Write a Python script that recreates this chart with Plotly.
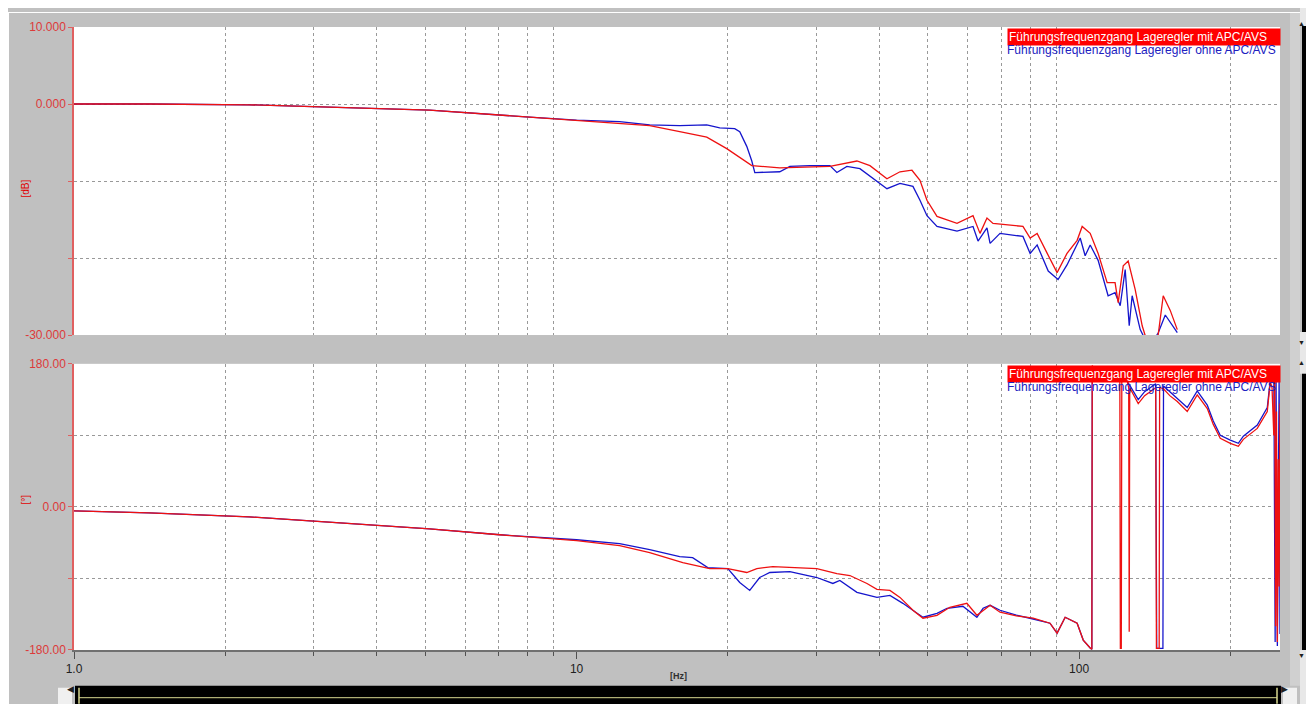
import plotly.graph_objects as go
from plotly.subplots import make_subplots

# Bode plot: Führungsfrequenzgang Lageregler mit / ohne APC/AVS
# values (Hz, dB, deg)

red_mag_f = [1.0, 1.41, 2.23, 3.22, 5.10, 8.06, 10.0, 12.18, 13.98, 16.04,
             18.16, 19.9, 22.32, 25.37, 31.92, 36.13, 38.35, 41.46, 44.01, 46.49,
             48.23, 49.8, 52.14, 57.15, 61.5, 63.5, 65.56, 67.4, 77.3, 79.9,
             82.5, 86.4, 90.4, 94.6, 99.1, 101.4, 105.2, 109.1, 113.7, 117.9,
             119.6, 122.4, 125.2, 129.3, 133.5, 135.4, 138.5, 143.0, 147.0, 151.8,
             156.8]
red_mag = [0, 0, -0.1, -0.4, -0.8, -1.7, -2.1, -2.45, -2.8, -3.6,
           -4.3, -5.8, -8.0, -8.3, -8.1, -7.4, -8.0, -9.7, -8.8, -8.6,
           -9.9, -12.5, -14.6, -15.5, -14.5, -16.8, -14.8, -15.5, -15.9, -17.4,
           -16.8, -19.4, -21.9, -19.4, -17.7, -15.9, -16.8, -19.4, -23.2, -23.2,
           -25.8, -21.0, -20.4, -24.1, -28.8, -30.1, -31.5, -31.0, -24.9, -26.8,
           -29.3]

blue_mag_f = [1.0, 1.41, 2.23, 3.22, 5.10, 8.06, 10.0, 12.18, 13.98, 16.04,
              18.16, 19.27, 20.64, 21.12, 21.81, 22.32, 22.63, 25.37, 26.57, 29.12,
              31.92, 32.96, 34.51, 36.63, 38.88, 41.46, 44.01, 46.7, 48.23, 49.8,
              52.14, 57.15, 61.5, 62.93, 65.56, 66.5, 69.6, 77.3, 79.9, 82.5,
              86.8, 90.8, 94.6, 100.5, 102.8, 105.2, 109.1, 114.2, 117.9, 120.7,
              123.5, 125.8, 127.5, 132.3, 134.2, 138.5, 143.7, 148.4, 156.8]
blue_mag = [0, 0, -0.1, -0.4, -0.8, -1.7, -2.1, -2.3, -2.7, -2.8,
            -2.7, -3.1, -3.2, -3.6, -5.5, -7.4, -8.9, -8.8, -8.1, -8.0,
            -8.0, -8.9, -8.1, -8.4, -9.7, -11.0, -10.3, -10.7, -12.5, -14.5,
            -15.9, -16.5, -15.9, -17.8, -16.1, -18.1, -16.8, -17.2, -19.4, -18.3,
            -21.7, -22.8, -20.9, -17.4, -19.7, -18.3, -20.3, -24.9, -24.5, -26.2,
            -21.5, -28.8, -24.9, -29.3, -30.1, -31.5, -29.7, -27.4, -29.7]

red_ph_f = [1.0, 1.41, 2.23, 3.22, 5.10, 7.03, 10.0, 12.18, 13.98, 16.27,
            18.4, 20.0, 21.81, 22.84, 24.57, 30.07, 32.96, 34.98, 37.83, 39.6,
            42.03, 44.01, 46.7, 48.9, 52.14, 55.3, 59.8, 62.6, 66.5, 69.6,
            75.0, 81.0, 87.5, 90.4, 93.8, 99.1, 101.9, 105.2, 106.0, 106.2,
            108.0, 111.0, 115.0, 118.0, 120.5, 120.8, 121.3, 121.6, 124.0, 125.5,
            125.8, 126.1, 126.4, 131.1, 135.0, 138.5, 142.0, 142.5, 144.3, 144.6,
            147.0, 151.5, 156.8, 164.1, 171.8, 179.9, 184.9, 190.9, 199.9, 207.4,
            212.2, 226.2, 236.8, 240.1, 242.0, 244.0, 245.0, 246.0, 247.0, 248.0,
            249.0, 250.0, 251.0]
red_ph = [-5, -7.5, -12.5, -18.8, -27.5, -35, -42.5, -48.8, -57.5, -70,
          -77.5, -77.5, -82.5, -77.5, -75, -77.5, -83.8, -86.3, -96.3, -103.8,
          -105, -113.8, -130, -140, -136.3, -126.3, -121.3, -136.3, -123.8, -132.5,
          -137, -140, -146.3, -158.8, -138.8, -146.3, -167.5, -177.5, -179, 178,
          168, 172, 162, 170, 165, -178, -178, 160, 165, 150,
          -157, 150, 148.8, 130, 140, 145, 150, -178, -178, 150,
          148.8, 140, 132.5, 120, 141, 123.8, 103.8, 86.3, 80, 76.3,
          85, 98.8, 120, 157.5, 150, 90, 170, -150, 120, -170,
          60, -100, 130]

blue_ph_f = [1.0, 1.41, 2.23, 3.22, 5.10, 7.03, 10.0, 12.18, 13.98, 16.04,
             17.02, 18.24, 20.0, 21.12, 22.11, 23.14, 24.24, 26.57, 30.07, 32.36,
             33.41, 36.13, 39.6, 42.03, 44.6, 47.6, 48.9, 52.14, 54.6, 58.7,
             62.6, 64.4, 66.5, 69.6, 75.0, 81.0, 87.5, 90.4, 93.8, 99.1,
             101.9, 105.2, 106.0, 106.2, 108.0, 111.0, 115.0, 118.0, 121.0, 124.0,
             126.4, 131.1, 135.0, 138.5, 142.0, 142.7, 146.8, 147.2, 151.5, 156.8,
             164.1, 171.8, 179.9, 184.9, 190.9, 199.9, 207.4, 212.2, 226.2, 236.8,
             240.1, 244.0, 245.5, 246.5, 248.0, 250.0, 251.0]
blue_ph = [-5, -7.5, -12.5, -18.8, -27.5, -35, -41.3, -46.3, -53.8, -62.5,
           -63.8, -76.3, -77.5, -95, -105, -88.8, -82.5, -81.3, -88.8, -96.3,
           -92.5, -107.5, -113.8, -111.3, -121.3, -133.8, -138.8, -133.8, -127.5, -125,
           -138.8, -127.5, -123.8, -130, -136, -141, -146.3, -158.8, -138.8, -146.3,
           -167.5, -177.5, -179, 176, 170, 174, 165, 172, 168, 160,
           152, 135, 145, 150, 155, -178, -178, 152, 145, 137,
           125, 146, 128, 108, 90, 84, 80, 89, 103, 125,
           160, 175, -170, 170, -175, 165, -160]

x_major = [1, 10, 100]
x_major_text = ["1.0", "10", "100"]
x_minor = [2, 3, 4, 5, 6, 7, 8, 9, 20, 30, 40, 50, 60, 70, 80, 90, 200]

mag_ticks = [-30, -20, -10, 0, 10]
mag_text = ["-30.000", "", "", "0.000", "10.000"]
ph_ticks = [-180, -90, 0, 90, 180]
ph_text = ["-180.00", "", "0.00", "", "180.00"]

name_mit = "Führungsfrequenzgang Lageregler mit APC/AVS"
name_ohne = "Führungsfrequenzgang Lageregler ohne APC/AVS"

RED = "#ee1111"
BLUE = "#1515cc"
AXRED = "#e06060"
GRAY = "#c0c0c0"
FONT = "Liberation Sans, Arial, sans-serif"

# the page body adds an 8px margin, so the figure is 1306x696.
# pixel -> paper helpers in page pixels (plot area spans x 74..1280, y 23..650)
def px(x):
    return (x - 74) / 1206

def py(y):
    return (650 - y) / 627


fig = make_subplots(rows=2, cols=1, shared_xaxes=True)

fig.add_trace(go.Scatter(x=blue_mag_f, y=blue_mag, mode="lines", name=name_ohne,
                         line=dict(color=BLUE, width=1.3)), row=1, col=1)
fig.add_trace(go.Scatter(x=red_mag_f, y=red_mag, mode="lines", name=name_mit,
                         line=dict(color=RED, width=1.3)), row=1, col=1)
fig.add_trace(go.Scatter(x=blue_ph_f, y=blue_ph, mode="lines", name=name_ohne,
                         line=dict(color=BLUE, width=1.3)), row=2, col=1)
fig.add_trace(go.Scatter(x=red_ph_f, y=red_ph, mode="lines", name=name_mit,
                         line=dict(color=RED, width=1.3)), row=2, col=1)

xcommon = dict(type="log", range=[0, 2.3997], showgrid=False, zeroline=False,
               tickvals=x_major, ticktext=x_major_text,
               minor=dict(tickvals=x_minor, showgrid=True, gridcolor="#999999",
                          griddash="3px,3px", gridwidth=1),
               tickfont=dict(family=FONT, size=12, color="#202020"))
fig.update_xaxes(**xcommon)
fig.update_xaxes(row=1, col=1, showticklabels=False, ticks="",
                 minor=dict(ticks=""), showline=False)
fig.update_xaxes(row=2, col=1, ticks="outside", ticklen=7, tickcolor="#505050",
                 showline=True, linecolor="#707070", linewidth=1.5,
                 minor=dict(ticks="outside", ticklen=4, tickcolor="#505050"))

ycommon = dict(showgrid=False, zeroline=False, showline=True, linecolor=AXRED,
               linewidth=1.5, ticks="outside", ticklen=4, tickcolor=AXRED,
               tickfont=dict(family=FONT, size=12, color="#dd3a3a"))
fig.update_yaxes(**ycommon)
fig.update_yaxes(row=1, col=1, range=[-30, 10], tickvals=mag_ticks, ticktext=mag_text,
                 domain=[py(333), 1],
                 minor=dict(tickvals=[-20, -10, 0], showgrid=True, gridcolor="#999999",
                            griddash="3px,3px", ticks=""))
fig.update_yaxes(row=2, col=1, range=[-180, 180], tickvals=ph_ticks, ticktext=ph_text,
                 domain=[0, py(362)],
                 minor=dict(tickvals=[-90, 0, 90], showgrid=True, gridcolor="#999999",
                            griddash="3px,3px", ticks=""))

shapes = []
def rect(x0, y0, x1, y1, color):
    shapes.append(dict(type="rect", xref="paper", yref="paper",
                       x0=px(x0), x1=px(x1), y0=py(y1), y1=py(y0),
                       fillcolor=color, line=dict(width=0), layer="above"))

# window chrome around the plot (page pixel coords)
rect(8, 8, 9, 720, "white")
rect(8, 8, 1300, 9, "white")
rect(1290, 9, 1300, 686, "#d0d0d0")
rect(1300, 0, 1330, 22, "#e8e8e8")
rect(1302, 22, 1330, 330, "black")
rect(1300, 330, 1330, 372, "#e8e8e8")
rect(1302, 372, 1330, 650, "black")
rect(1300, 650, 1330, 720, "#e8e8e8")
rect(75, 686, 1281, 720, "black")
rect(58, 688, 72, 720, "#f0f0f0")
rect(1283, 688, 1297, 720, "#f0f0f0")
shapes.append(dict(type="line", xref="paper", yref="paper", x0=px(79), x1=px(1277),
                   y0=py(698), y1=py(698), line=dict(color="#d8d890", width=1), layer="above"))
for xx in (79, 1277):
    shapes.append(dict(type="line", xref="paper", yref="paper", x0=px(xx), x1=px(xx),
                       y0=py(688), y1=py(704), line=dict(color="#d8d890", width=1.5),
                       layer="above"))

annotations = [
    dict(text="[dB]", x=px(18), y=py(175), textangle=-90,
         font=dict(family=FONT, size=10, color="#e00000")),
    dict(text="[°]", x=px(18), y=py(506), textangle=-90,
         font=dict(family=FONT, size=10, color="#e00000")),
    dict(text="<b>[Hz]</b>", x=px(678), y=py(683),
         font=dict(family=FONT, size=9, color="#303030")),
    dict(text="◀", x=px(65), y=py(696), font=dict(size=9, color="#202020")),
    dict(text="▶", x=px(1290), y=py(696), font=dict(size=9, color="#202020")),
    dict(text="▲", x=px(1307), y=py(14), font=dict(size=7, color="#202020")),
    dict(text="▼", x=px(1307), y=py(341), font=dict(size=7, color="#202020")),
    dict(text="▲", x=px(1307), y=py(361), font=dict(size=7, color="#202020")),
    dict(text="▼", x=px(1307), y=py(661), font=dict(size=7, color="#202020")),
]
for a in annotations:
    a.update(xref="paper", yref="paper", showarrow=False)

# legend boxes (top-right of each panel)
for top, mid in ((24, 46), (363, 385)):
    annotations.append(dict(text=name_mit, xref="paper", yref="paper", showarrow=False,
                            x=px(1281), y=py(top), xanchor="right", yanchor="top",
                            width=270, align="left", bgcolor="#ff0000", borderpad=1,
                            font=dict(family=FONT, size=12, color="white")))
    annotations.append(dict(text=name_ohne, xref="paper", yref="paper", showarrow=False,
                            x=px(1281), y=py(mid), xanchor="right", yanchor="middle",
                            width=272, align="left",
                            font=dict(family=FONT, size=12, color="#2020c0")))

fig.update_layout(width=1306, height=696, autosize=False,
                  margin=dict(l=66, r=34, t=15, b=54),
                  paper_bgcolor=GRAY, plot_bgcolor="white",
                  showlegend=False, font=dict(family=FONT),
                  shapes=shapes, annotations=annotations)
fig.layout.xaxis.domain = [0, 1]
fig.layout.xaxis2.domain = [0, 1]

fig.write_html("out.html")
